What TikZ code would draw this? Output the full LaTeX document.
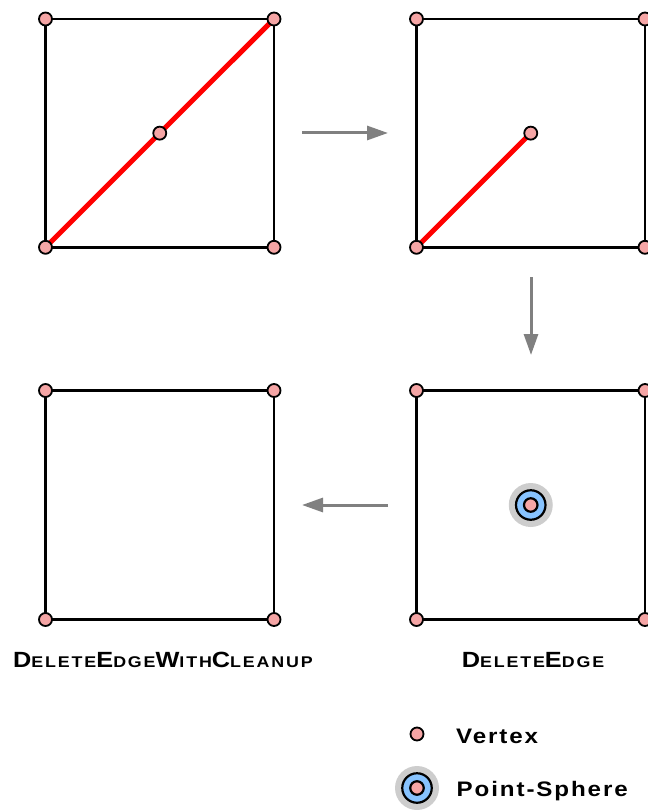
\documentclass[tikz,border=0pt]{standalone}
\usepackage{fontspec}
\usetikzlibrary{arrows.meta}
\newfontfamily\BigF{Liberation Sans}[LetterSpace=8, FakeStretch=1.15]
\newfontfamily\SmF{Liberation Sans}[LetterSpace=12, FakeStretch=1.15]
\newfontfamily\LegF{Liberation Sans}[LetterSpace=9, FakeStretch=1.15]
\newcommand\Bg[1]{{\fontsize{22}{26}\BigF\bfseries #1}}
\newcommand\Sm[1]{{\fontsize{15.5}{18}\SmF\bfseries #1}}
\definecolor{vpink}{RGB}{245,165,165}
\definecolor{sblue}{RGB}{135,195,255}
\definecolor{halo}{RGB}{205,205,205}
\definecolor{arrgray}{RGB}{128,128,128}
\tikzset{
  sq/.style={line width=2.6pt, line join=miter},
  redge/.style={line width=5pt, red},
  vtx/.style={circle, draw=black, line width=1.8pt, fill=vpink, minimum size=13pt, inner sep=0pt},
  halo/.style={circle, fill=halo, minimum size=44pt, inner sep=0pt},
  psouter/.style={circle, draw=black, line width=2.2pt, fill=sblue, minimum size=29.5pt, inner sep=0pt},
  psinner/.style={circle, draw=black, line width=2.2pt, fill=vpink, minimum size=13.5pt, inner sep=0pt},
  flow/.style={arrgray, line width=3pt, -{Triangle[length=21pt,width=14pt]}},
  lbl/.style={anchor=base, inner sep=0pt},
  leg/.style={anchor=base west, inner sep=0pt, font={\fontsize{21}{25}\LegF\bfseries}}
}
\begin{document}
\begin{tikzpicture}[x=1pt,y=-1pt]
\useasboundingbox (0,0) rectangle (647,810);
% ---------- panel A (top left)
\coordinate (a1) at (45.5,19);
\coordinate (a2) at (274,19);
\coordinate (a3) at (274,247.3);
\coordinate (a4) at (45.5,247.3);
\coordinate (am) at (159.75,133.15);
\draw[sq] (a1) -- (a2) -- (a3) -- (a4) -- cycle;
\draw[redge] (a4) -- (a2);
\foreach \p in {a1,a2,a3,a4,am} \node[vtx] (v\p) at (\p) {};
% ---------- panel B (top right)
\coordinate (b1) at (416.5,19);
\coordinate (b2) at (645,19);
\coordinate (b3) at (645,247.3);
\coordinate (b4) at (416.5,247.3);
\coordinate (bm) at (530.75,133.15);
\draw[sq] (b1) -- (b2) -- (b3) -- (b4) -- cycle;
\draw[redge] (b4) -- (bm);
\foreach \p in {b1,b2,b3,b4,bm} \node[vtx] (v\p) at (\p) {};
% ---------- panel C (bottom right)
\coordinate (c1) at (416.5,390.5);
\coordinate (c2) at (645,390.5);
\coordinate (c3) at (645,619.5);
\coordinate (c4) at (416.5,619.5);
\coordinate (cm) at (530.75,505);
\draw[sq] (c1) -- (c2) -- (c3) -- (c4) -- cycle;
\foreach \p in {c1,c2,c3,c4} \node[vtx] (v\p) at (\p) {};
\node[halo] (ch) at (cm) {};
\node[psouter] (co) at (cm) {};
\node[psinner] (ci) at (cm) {};
% ---------- panel D (bottom left)
\coordinate (d1) at (45.5,390.5);
\coordinate (d2) at (274,390.5);
\coordinate (d3) at (274,619.5);
\coordinate (d4) at (45.5,619.5);
\draw[sq] (d1) -- (d2) -- (d3) -- (d4) -- cycle;
\foreach \p in {d1,d2,d3,d4} \node[vtx] (v\p) at (\p) {};
% ---------- flow arrows
\coordinate (r1) at (302,133);
\coordinate (r2) at (388,133);
\coordinate (s1) at (531,277);
\coordinate (s2) at (531,355);
\coordinate (l1) at (388,505);
\coordinate (l2) at (302,505);
\draw[flow] (r1) -- (r2);
\draw[flow] (s1) -- (s2);
\draw[flow] (l1) -- (l2);
% ---------- labels
\node[lbl] (lblD) at (163,667) {\Bg{D}\Sm{ELETE}\Bg{E}\Sm{DGE}\Bg{W}\Sm{ITH}\Bg{C}\Sm{LEANUP}};
\node[lbl] (lblC) at (533,667) {\Bg{D}\Sm{ELETE}\Bg{E}\Sm{DGE}};
% ---------- legend
\node[vtx] (legv) at (417,734) {};
\node[leg] (legvt) at (456,743) {Vertex};
\node[halo] (legph) at (417,788) {};
\node[psouter] (legpo) at (417,788) {};
\node[psinner] (legpi) at (417,788) {};
\node[leg] (legpt) at (456.5,796.5) {Point-Sphere};
\end{tikzpicture}
\end{document}
